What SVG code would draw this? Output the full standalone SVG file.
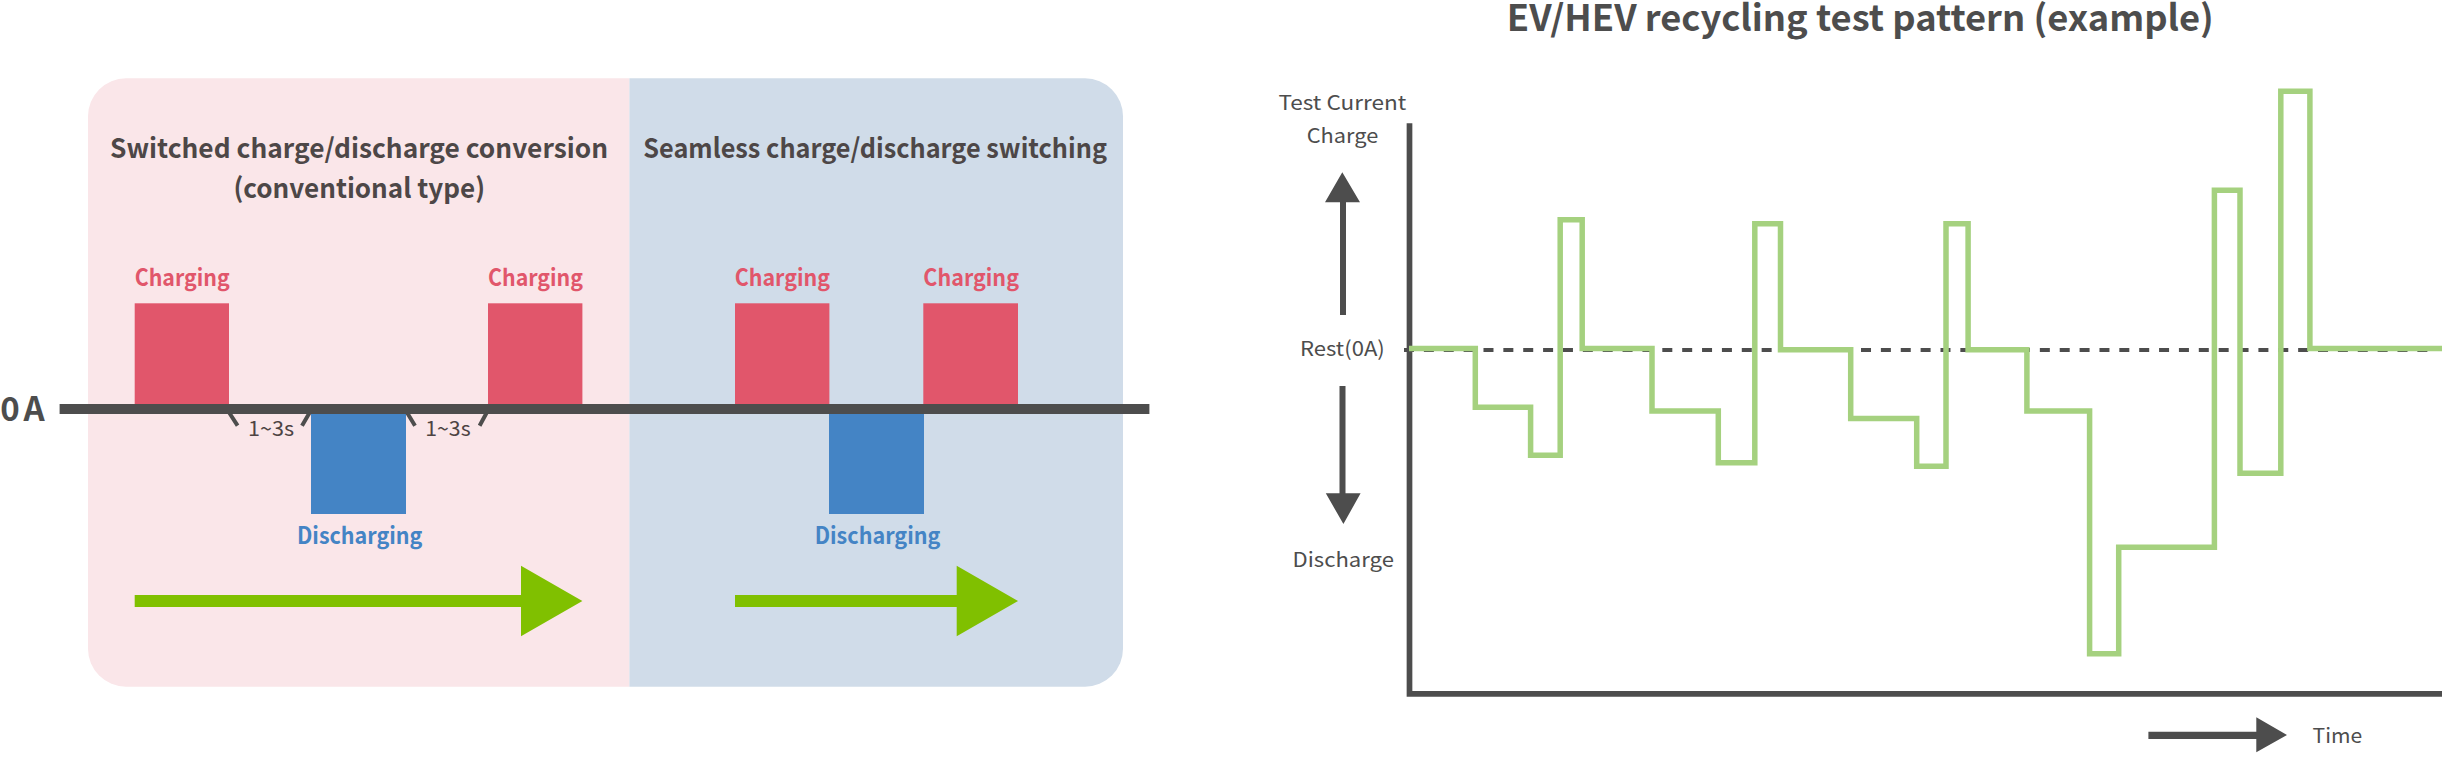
<svg xmlns="http://www.w3.org/2000/svg" width="2443" height="765" viewBox="0 0 2443 765">
<style>
text{font-family:"Noto Sans CJK JP","Noto Sans",sans-serif}
.h{font-size:27px;font-weight:700;fill:#4d4747}
.c{font-size:23.5px;font-weight:700;fill:#e1566b}
.d{font-size:23.5px;font-weight:700;fill:#4484c5}
.s{font-size:20px;fill:#4d4343}
.l{font-size:20.5px;fill:#4d4d4d}
.red{fill:#e1566b}.blue{fill:#4484c5}.lime{fill:#80c000}.dark{fill:#4d4d4d}
.tick{stroke:#4d4d4d;stroke-width:4;fill:none}
</style>
<g id="panel-conventional"><path d="M629.4 78.3H126a38 38 0 0 0-38 38V648.7a38 38 0 0 0 38 38H629.4Z" fill="#fae6e9"/>
<text class="h" x="110" y="158.3" textLength="498" lengthAdjust="spacingAndGlyphs">Switched charge/discharge conversion</text>
<text class="h" x="233.5" y="198.3" textLength="251.5" lengthAdjust="spacingAndGlyphs">(conventional type)</text></g>
<g id="panel-seamless"><path d="M629.4 78.3H1085a38 38 0 0 1 38 38V648.7a38 38 0 0 1-38 38H629.4Z" fill="#d0dce9"/>
<text class="h" x="643.3" y="158.3" textLength="463.7" lengthAdjust="spacingAndGlyphs">Seamless charge/discharge switching</text></g>
<g id="left-pulses">
<g id="charge-1"><rect class="red" x="134.7" y="303.3" width="94.3" height="102"/><text class="c" x="134.7" y="286" textLength="95" lengthAdjust="spacingAndGlyphs">Charging</text></g>
<g id="charge-2"><rect class="red" x="488" y="303.3" width="94.4" height="102"/><text class="c" x="488" y="286" textLength="95" lengthAdjust="spacingAndGlyphs">Charging</text></g>
<g id="discharge-1"><rect class="blue" x="311" y="413" width="95" height="101"/><text class="d" x="297" y="544" textLength="125.4" lengthAdjust="spacingAndGlyphs">Discharging</text></g>
<g id="charge-3"><rect class="red" x="735" y="303.3" width="94.4" height="102"/><text class="c" x="734.7" y="286" textLength="95.3" lengthAdjust="spacingAndGlyphs">Charging</text></g>
<g id="charge-4"><rect class="red" x="923.3" y="303.3" width="94.7" height="102"/><text class="c" x="923.3" y="286" textLength="95.7" lengthAdjust="spacingAndGlyphs">Charging</text></g>
<g id="discharge-2"><rect class="blue" x="829" y="413" width="95" height="101"/><text class="d" x="814.7" y="544" textLength="125.7" lengthAdjust="spacingAndGlyphs">Discharging</text></g>
</g>
<g id="connectors">
<rect id="zero-line" class="dark" x="59.6" y="404" width="1089.8" height="10"/>
<path class="tick" d="M229.4 413L237.6 425.7M309.4 413L302 425.7M407.3 413L415 425.7M486.5 413L479.6 425.7"/>
<path id="flow-1" class="lime" d="M134.7 595H521V565.7L582.4 601L521 636.3V607H134.7Z"/>
<path id="flow-2" class="lime" d="M735 595H956.7V565.7L1018 601L956.7 636.3V607H735Z"/>
<path id="rest-line" d="M1404 350H2428" stroke="#4d4d4d" stroke-width="4.2" stroke-dasharray="10 9.87" fill="none"/>
<path id="axes" d="M1409.5 123.3V693.9H2442" stroke="#4d4d4d" stroke-width="5.7" fill="none"/>
<path id="test-pattern" d="M1409 348.5H1475.3V407.2H1530.6V455.2H1560.2V219.7H1582.2V348.5H1652V411H1718.3V462.8H1754.8V223.7H1780.5V349.8H1850.7V418.5H1916.7V466.2H1946V223.7H1968.1V349.8H2026.9V411H2089.6V653.8H2118.7V547.2H2214.4V190.3H2240V473.3H2280.8V91.2H2309.9V348.5H2442" stroke="#a5d17f" stroke-width="5.5" fill="none"/>
<path id="arrow-charge" class="dark" d="M1342.3 172.3L1360 202.3H1346V315H1340V202.3H1325Z"/>
<path id="arrow-discharge" class="dark" d="M1339.5 386H1345.5V493.3H1360.6L1343.4 524L1325.8 493.3H1339.5Z"/>
<path id="arrow-time" class="dark" d="M2148.4 731.7H2256.3V717.3L2287 735L2256.3 752.3V739H2148.4Z"/>
</g>
<g id="labels">
<text class="s" x="248" y="436" textLength="46" lengthAdjust="spacingAndGlyphs">1~3s</text>
<text class="s" x="425.3" y="436" textLength="45.3" lengthAdjust="spacingAndGlyphs">1~3s</text>
<text x="0.2 23.4" y="420.7" font-size="33" font-weight="700" fill="#4d4d4d">0A</text>
<text x="1506.8" y="31" font-size="36" font-weight="700" fill="#4d4d4d" textLength="707" lengthAdjust="spacingAndGlyphs">EV/HEV recycling test pattern (example)</text>
<text class="l" x="1278.4" y="110" textLength="128" lengthAdjust="spacingAndGlyphs">Test Current</text>
<text class="l" x="1306.7" y="142.7" textLength="71.6" lengthAdjust="spacingAndGlyphs">Charge</text>
<text class="l" x="1300" y="356" textLength="84.8" lengthAdjust="spacingAndGlyphs">Rest(0A)</text>
<text class="l" x="1292.5" y="566.7" textLength="101.5" lengthAdjust="spacingAndGlyphs">Discharge</text>
<text class="l" x="2312.6" y="742.7" textLength="49.7" lengthAdjust="spacingAndGlyphs">Time</text>
</g>
</svg>
